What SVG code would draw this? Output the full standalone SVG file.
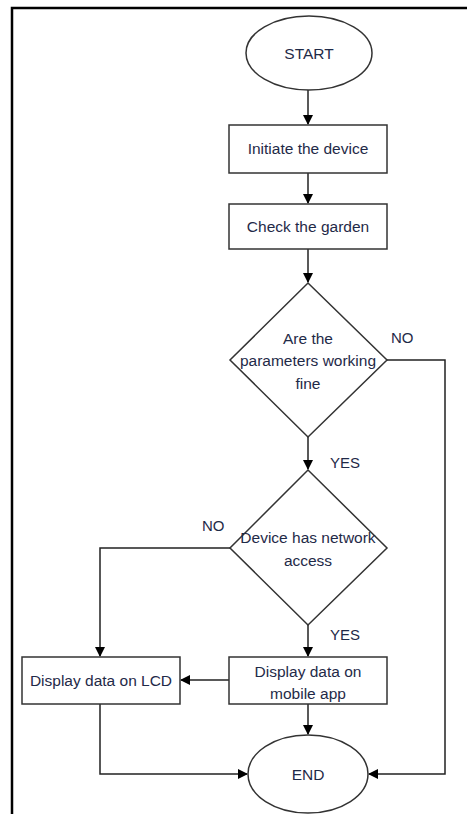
<svg xmlns="http://www.w3.org/2000/svg" width="467" height="814" viewBox="0 0 467 814">
<defs>
<marker id="ah" markerWidth="10" markerHeight="10" refX="9" refY="5" orient="auto" markerUnits="userSpaceOnUse">
<path d="M0,0 L10,5 L0,10 Z" fill="#000"/>
</marker>
<style>
.shape{fill:#fff;stroke:#333;stroke-width:1.5}
.line{fill:none;stroke:#222;stroke-width:1.5}
.t{font-family:"Liberation Sans",Arial,sans-serif;font-size:15.5px;fill:#1f2a48;text-anchor:middle}
.lbl{font-family:"Liberation Sans",Arial,sans-serif;font-size:15px;fill:#1f2a48}
</style>
</defs>
<rect width="467" height="814" fill="#fff"/>
<path d="M12,814 V8 H467" fill="none" stroke="#000" stroke-width="2.5"/>
<g id="connectors">
<line class="line" x1="308" y1="90" x2="308" y2="124" marker-end="url(#ah)"/>
<line class="line" x1="308" y1="173" x2="308" y2="203" marker-end="url(#ah)"/>
<line class="line" x1="308" y1="249" x2="308" y2="282" marker-end="url(#ah)"/>
<polyline class="line" points="387,360 445,360 445,774 369,774" marker-end="url(#ah)"/>
<line class="line" x1="308" y1="437" x2="308" y2="469" marker-end="url(#ah)"/>
<polyline class="line" points="230,548 100,548 100,656" marker-end="url(#ah)"/>
<line class="line" x1="308" y1="625" x2="308" y2="656" marker-end="url(#ah)"/>
<line class="line" x1="229" y1="680" x2="181" y2="680" marker-end="url(#ah)"/>
<polyline class="line" points="100,704 100,774 247,774" marker-end="url(#ah)"/>
<line class="line" x1="308" y1="704" x2="308" y2="734" marker-end="url(#ah)"/>
<text class="lbl" x="391" y="343">NO</text>
<text class="lbl" x="330" y="468">YES</text>
<text class="lbl" x="202" y="531">NO</text>
<text class="lbl" x="330" y="640">YES</text>
</g>
<g id="start">
<ellipse class="shape" cx="309" cy="53" rx="63" ry="37"/>
<text class="t" x="309" y="59">START</text>
</g>
<g id="initiate">
<rect class="shape" x="229" y="125" width="158" height="48"/>
<text class="t" x="308" y="154">Initiate the device</text>
</g>
<g id="check">
<rect class="shape" x="229" y="204" width="158" height="45"/>
<text class="t" x="308" y="232">Check the garden</text>
</g>
<g id="decision1">
<polygon class="shape" points="308,283 387,360 308,437 230,360"/>
<text class="t" x="308" y="344">Are the</text>
<text class="t" x="308" y="366">parameters working</text>
<text class="t" x="308" y="389">fine</text>
</g>
<g id="decision2">
<polygon class="shape" points="308,470 387,548 308,625 230,548"/>
<text class="t" x="308" y="543">Device has network</text>
<text class="t" x="308" y="566">access</text>
</g>
<g id="mobile">
<rect class="shape" x="229" y="657" width="158" height="47"/>
<text class="t" x="308" y="677">Display data on</text>
<text class="t" x="308" y="699">mobile app</text>
</g>
<g id="lcd">
<rect class="shape" x="22" y="657" width="158" height="47"/>
<text class="t" x="101" y="686">Display data on LCD</text>
</g>
<g id="end">
<ellipse class="shape" cx="308" cy="774" rx="60" ry="39"/>
<text class="t" x="308" y="780">END</text>
</g>
</svg>
